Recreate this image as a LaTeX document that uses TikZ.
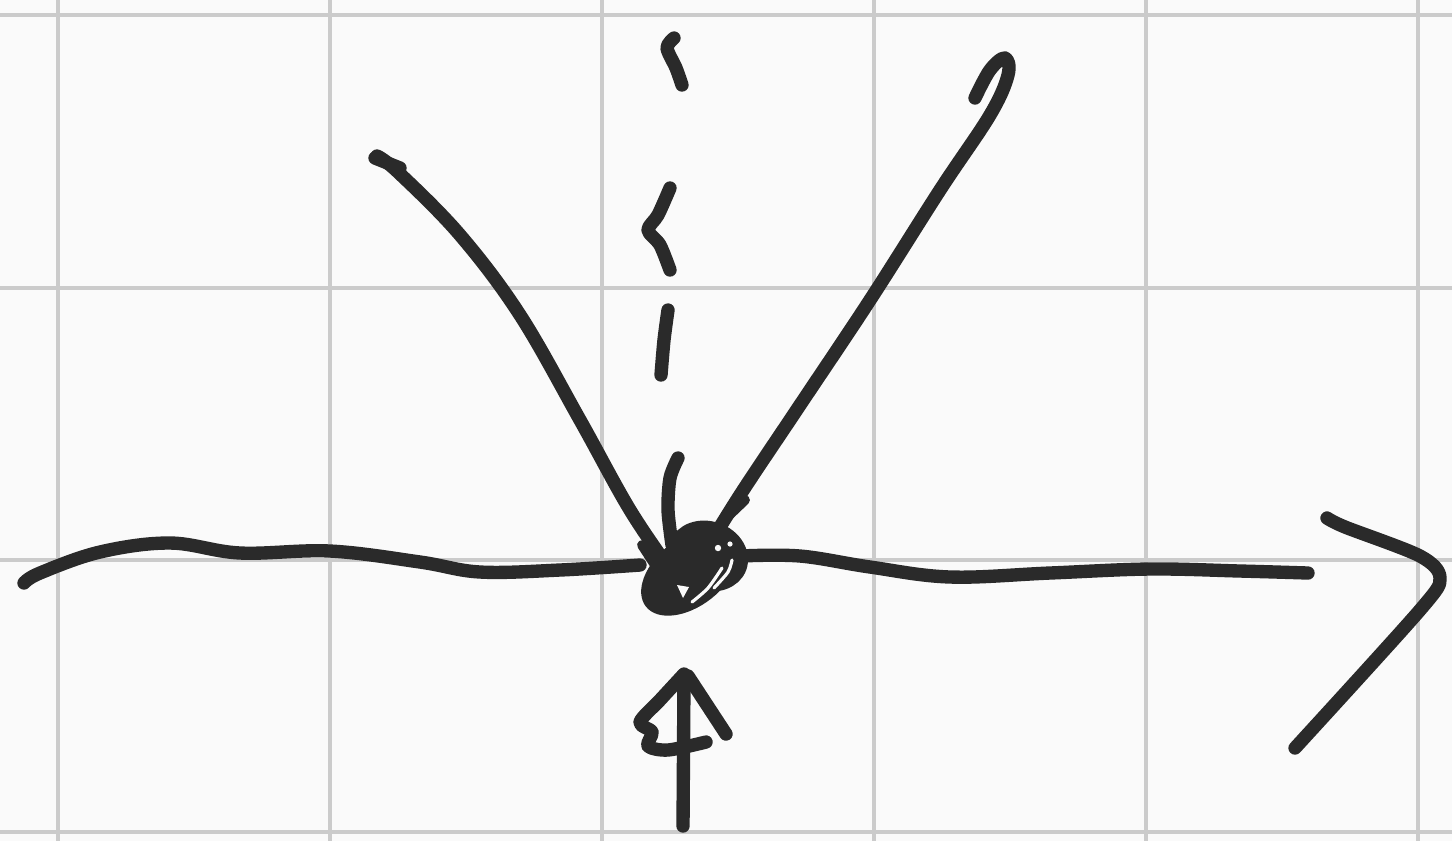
\documentclass[tikz,border=0pt]{standalone}
\usepackage{tikz}
\usetikzlibrary{arrows.meta,calc}
\definecolor{paper}{HTML}{FAFAFA}
\definecolor{gridgray}{HTML}{CBCBCB}
\definecolor{ink}{HTML}{2A2A2A}
\tikzset{
  gridline/.style={draw=gridgray, line width=0.9pt},
  inkline/.style={draw=ink, line width=3.8pt, line cap=round, line join=round},
  thininkline/.style={inkline, line width=2.8pt},
  gapline/.style={draw=paper, line width=0.9pt, line cap=round}
}
\begin{document}
\begin{tikzpicture}[x=0.01cm, y=-0.01cm]
  % paper and grid
  \fill[paper] (0,0) rectangle (1452,841);
  \useasboundingbox (0,0) rectangle (1452,841);
  \foreach \gx in {58,330,602,874,1146,1418}
    \draw[gridline] (\gx,0) -- (\gx,841);
  \foreach \gy in {15,288,560,832}
    \draw[gridline] (0,\gy) -- (1452,\gy);

  % horizontal axis
  \draw[inkline] plot[smooth, tension=0.6] coordinates {(24,583) (40,573) (100,552) (170,543) (240,553) (330,551) (420,562) (480,572) (560,570) (640,565)};
  \draw[inkline] plot[smooth, tension=0.6] coordinates {(740,556) (800,556) (870,567) (950,577) (1050,573) (1150,569) (1240,571) (1308,573)};
  % axis arrowhead
  \draw[inkline] plot[smooth, tension=0.5] coordinates {(1327,518) (1345,527) (1420,556) (1440,578) (1420,610) (1295,748)};

  % dashed vertical line
  \draw[inkline] plot[smooth] coordinates {(674,38) (667,48) (676,68) (682,85)};
  \draw[inkline] plot[smooth] coordinates {(670,188) (658,215) (648,230) (660,245) (670,270)};
  \draw[inkline] plot[smooth] coordinates {(668,310) (664,340) (661,375)};
  \draw[inkline] plot[smooth] coordinates {(678,458) (670,478) (668,510) (672,545)};

  % left arm
  \draw[inkline] plot[smooth, tension=0.6] coordinates {(377,156) (398,172) (460,235) (520,315) (580,420) (630,510) (672,572)};
  \draw[inkline] (375,158) -- (400,168);
  % right arm
  \draw[inkline] plot[smooth, tension=0.6] coordinates {(975,98) (990,70) (1005,58) (1008,75) (990,115) (940,190) (870,300) (800,405) (740,495) (700,560)};
  \draw[thininkline] (722,522) -- (745,500);

  % knot
  \fill[ink] (690,572) ellipse [x radius=56, y radius=34, rotate=38];
  \draw[inkline] (708,556) ellipse [x radius=34, y radius=28, rotate=-20];
  \draw[thininkline] (642,545) -- (655,565);
  \fill[paper] (677,585) -- (683,598) -- (689,587) -- cycle;
  \draw[gapline] plot[smooth] coordinates {(692,602) (708,588) (722,568)};
  \draw[gapline] plot[smooth] coordinates {(714,588) (728,572) (732,560)};
  \fill[paper] (718,548) circle (3.2);
  \fill[paper] (730,544) circle (2.6);

  % up arrow
  \draw[inkline] (683,826) -- (684,676);
  \draw[inkline] plot[smooth, tension=0.5] coordinates {(684,674) (660,700) (640,722) (652,732) (648,746) (668,750) (706,742)};
  \draw[inkline] (688,676) -- (726,734);
\end{tikzpicture}
\end{document}
